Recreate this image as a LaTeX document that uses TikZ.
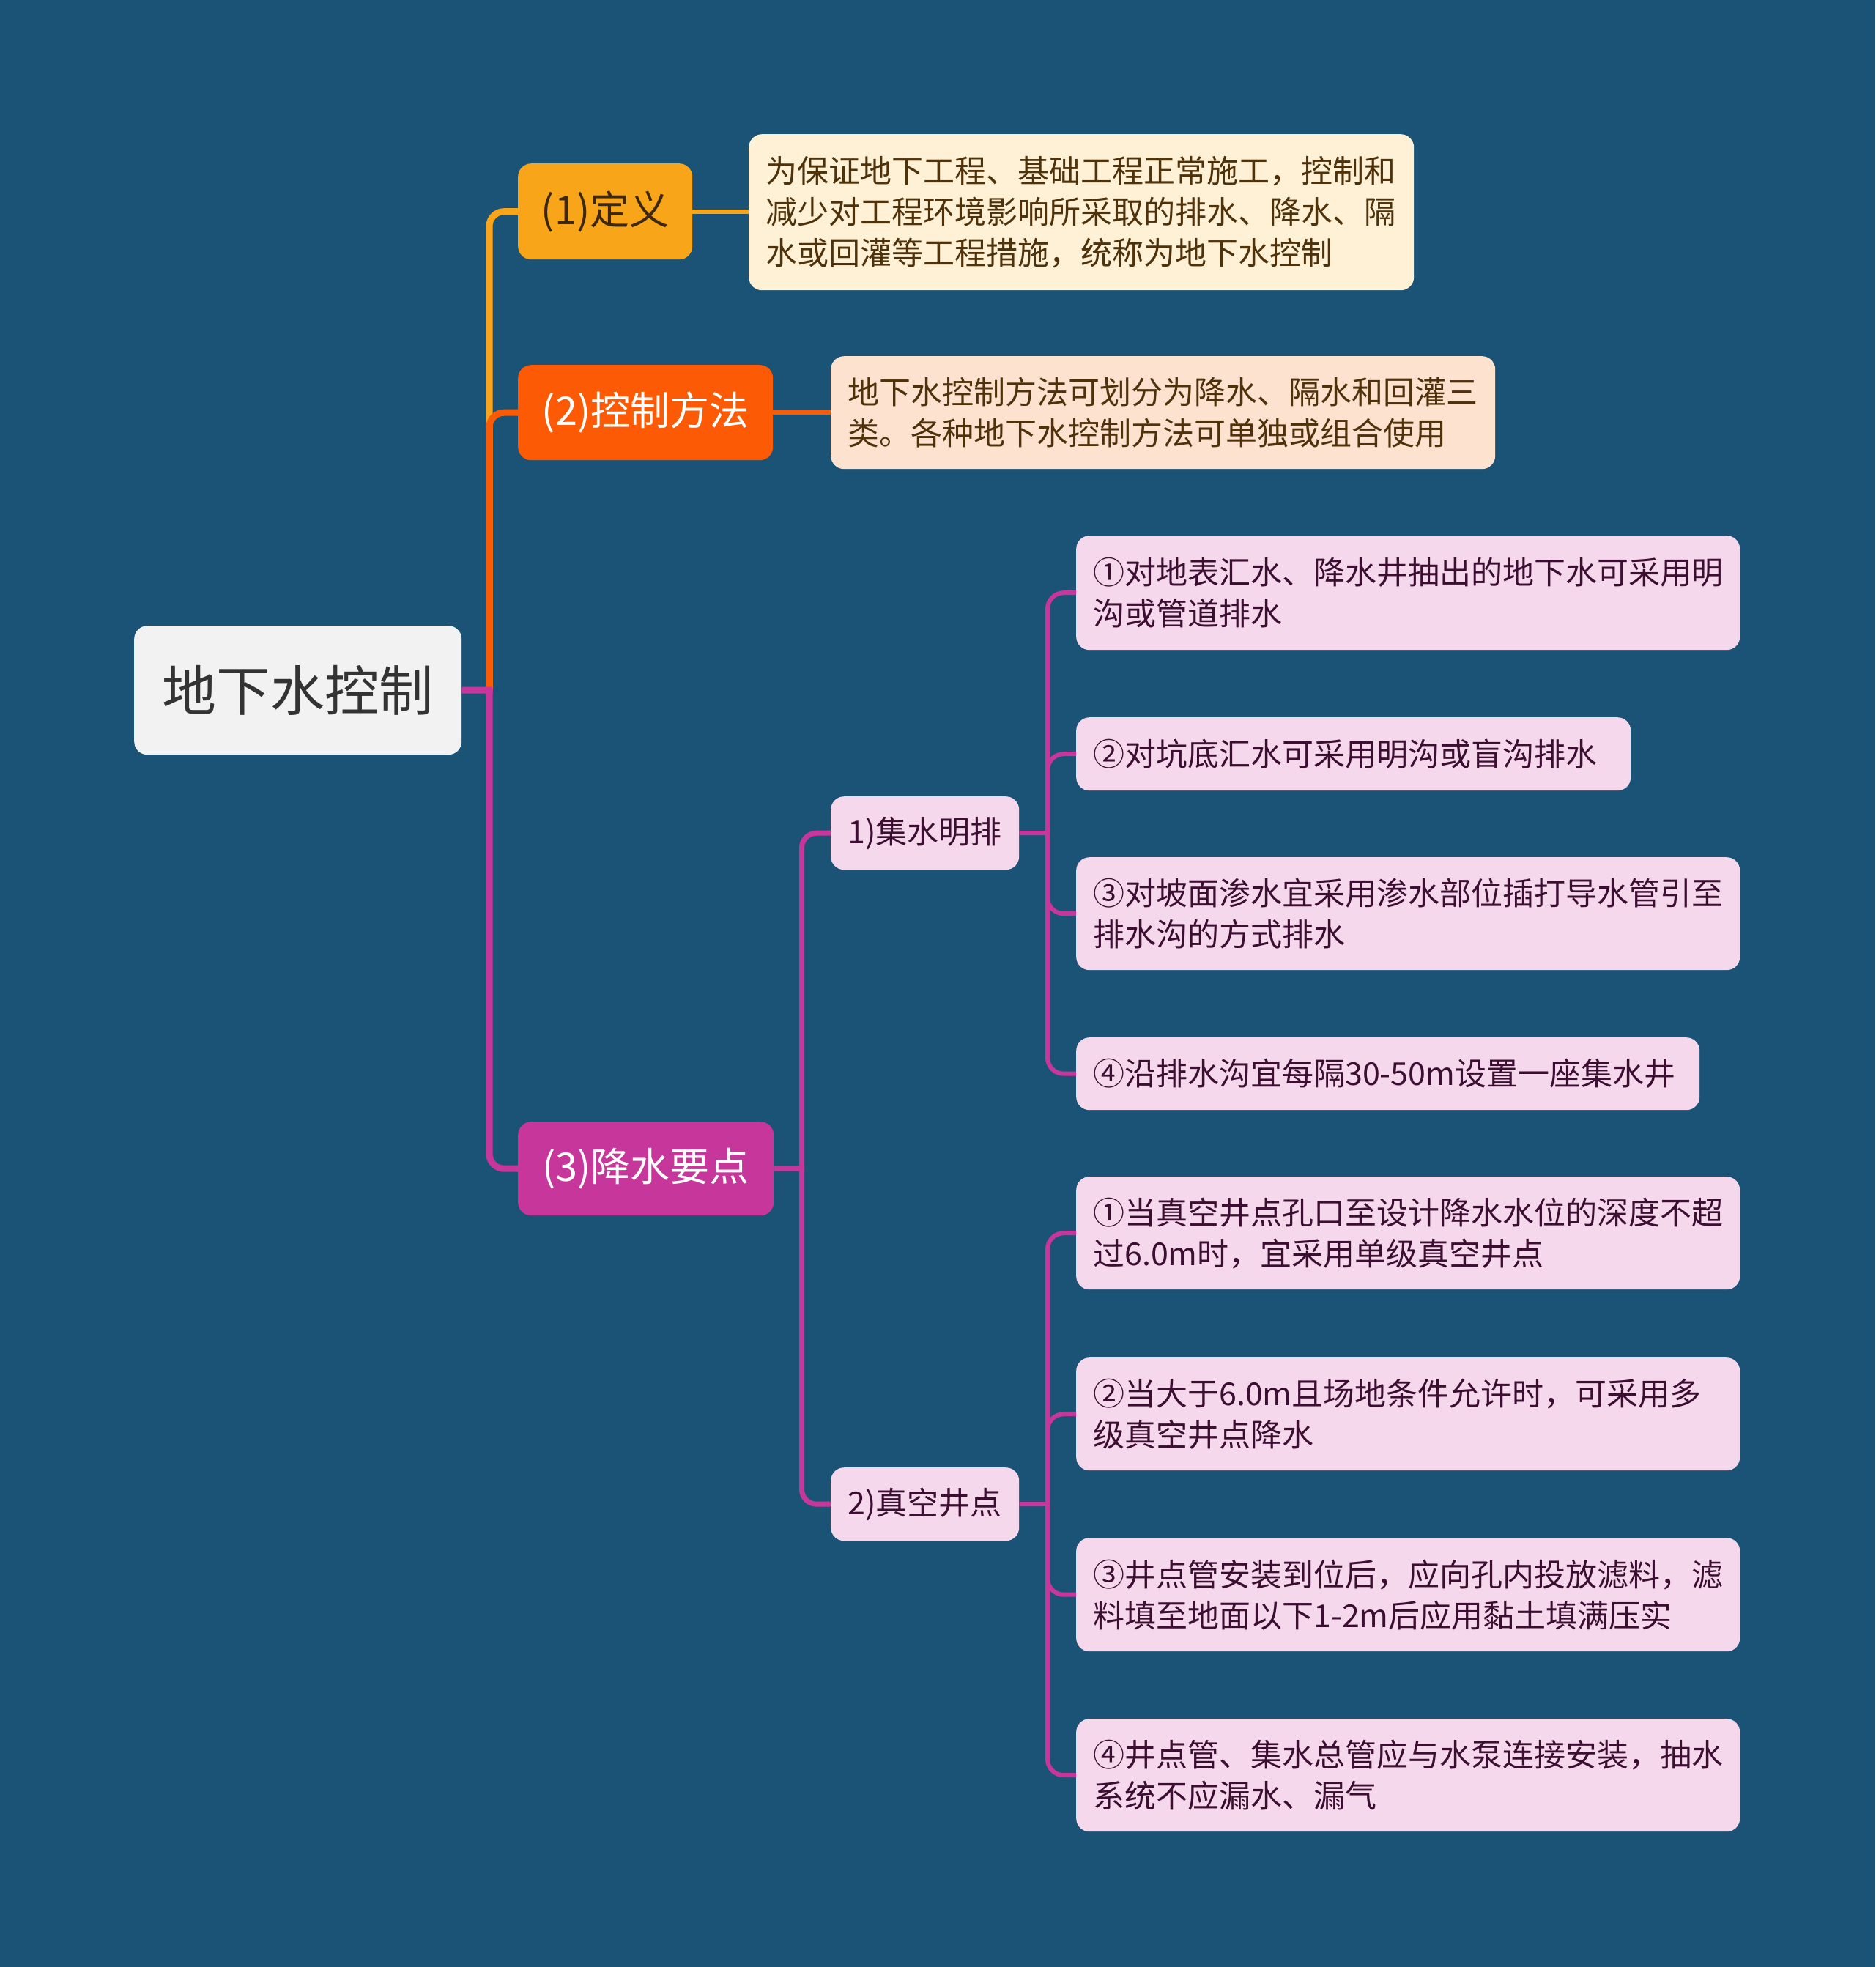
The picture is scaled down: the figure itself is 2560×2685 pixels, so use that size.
\documentclass[tikz,border=0pt]{standalone}
\usepackage{fontspec}
\setmainfont{Noto Sans CJK SC}
\definecolor{bgc}{RGB}{26,83,118}
\definecolor{orA}{RGB}{249,165,26}
\definecolor{orB}{RGB}{252,90,4}
\definecolor{mag}{RGB}{199,55,155}
\definecolor{pinkf}{RGB}{245,216,235}
\definecolor{creamf}{RGB}{255,241,214}
\definecolor{peachf}{RGB}{254,226,208}
\definecolor{rootf}{RGB}{242,242,242}
\definecolor{roott}{RGB}{51,51,51}
\definecolor{brownt}{RGB}{80,50,10}
\definecolor{darkor}{RGB}{60,40,15}
\definecolor{pinkt}{RGB}{60,15,50}
\newcommand\fsz[2]{\fontsize{#1}{#2}\selectfont}
\begin{document}
\begin{tikzpicture}[x=1pt,y=-1pt,
  base/.style={rounded corners=18pt, inner sep=0pt, anchor=north west},
  rootbox/.style={base, fill=rootf, text=roott, font=\fsz{74}{90}, align=center},
  lvA/.style={base, fill=orA, text=darkor, font=\fsz{54}{66}, align=center},
  lvB/.style={base, fill=orB, text=white, font=\fsz{54}{66}, align=center},
  lvC/.style={base, fill=mag, text=white, font=\fsz{54}{66}, align=center},
  defbox/.style={base, fill=creamf, text=brownt, font=\fsz{43}{56}, align=left},
  methbox/.style={base, fill=peachf, text=brownt, font=\fsz{43}{56}, align=left},
  grp/.style={base, fill=pinkf, text=pinkt, font=\fsz{43}{56}, align=center},
  leaf/.style={base, fill=pinkf, text=pinkt, font=\fsz{43}{56}, align=left},
  cz/.style={line width=9pt, rounded corners=20pt},
  co/.style={line width=7pt, rounded corners=20pt},
  cl/.style={line width=6pt, rounded corners=22pt}]
\fill[bgc] (0,0) rectangle (2560,2685);
\useasboundingbox (0,0) rectangle (2560,2685);

% nodes
\node[rootbox, minimum width=447, minimum height=176] (root) at (183,854) {地下水控制};
\node[lvA, minimum width=238, minimum height=131] (n1) at (707,223) {(1)定义};
\node[lvB, minimum width=348, minimum height=130] (n2) at (707,498) {(2)控制方法};
\node[lvC, minimum width=349, minimum height=128] (n3) at (707,1531) {(3)降水要点};

\node[defbox, minimum width=908, minimum height=213, text width=862] (def) at (1022,183)
  {为保证地下工程、基础工程正常施工，控制和\\减少对工程环境影响所采取的排水、降水、隔\\水或回灌等工程措施，统称为地下水控制};
\node[methbox, minimum width=907, minimum height=154, text width=861] (meth) at (1134,486)
  {地下水控制方法可划分为降水、隔水和回灌三\\类。各种地下水控制方法可单独或组合使用};

\node[grp, minimum width=257, minimum height=100] (g1) at (1134,1087) {1)集水明排};
\node[grp, minimum width=257, minimum height=100] (g2) at (1134,2003) {2)真空井点};

\node[leaf, minimum width=906, minimum height=156, text width=860] (a) at (1469,731)
  {①对地表汇水、降水井抽出的地下水可采用明\\沟或管道排水};
\node[leaf, minimum width=757, minimum height=100, text width=711] (b) at (1469,979)
  {②对坑底汇水可采用明沟或盲沟排水};
\node[leaf, minimum width=906, minimum height=154, text width=860] (c) at (1469,1170)
  {③对坡面渗水宜采用渗水部位插打导水管引至\\排水沟的方式排水};
\node[leaf, minimum width=851, minimum height=99, text width=805] (d) at (1469,1416)
  {④沿排水沟宜每隔30-50m设置一座集水井};
\node[leaf, minimum width=906, minimum height=154, text width=860] (e) at (1469,1606)
  {①当真空井点孔口至设计降水水位的深度不超\\过6.0m时，宜采用单级真空井点};
\node[leaf, minimum width=906, minimum height=154, text width=860] (f) at (1469,1853)
  {②当大于6.0m且场地条件允许时，可采用多\\级真空井点降水};
\node[leaf, minimum width=906, minimum height=155, text width=860] (g) at (1469,2099)
  {③井点管安装到位后，应向孔内投放滤料，滤\\料填至地面以下1-2m后应用黏土填满压实};
\node[leaf, minimum width=906, minimum height=154, text width=860] (h) at (1469,2346)
  {④井点管、集水总管应与水泵连接安装，抽水\\系统不应漏水、漏气};

% junction coordinates
\coordinate (j0) at (668,942);
\coordinate (j3) at (1094.5,1595);
\coordinate (j4) at (1430,1137);
\coordinate (j5) at (1430,2053);

% level 0 connectors
\draw[cz, orA] (j0) |- (n1.west);
\draw[cz, orB] (j0) |- (n2.west);
\draw[cz, mag] (j0) |- (n3.west);
\draw[cz, mag] (root.east) -- ([xshift=4.5pt]j0);

% level 1 stubs
\draw[line width=6pt, orA] (n1.east) -- (n1.east -| def.west);
\draw[line width=6pt, orB] (n2.east) -- (n2.east -| meth.west);

% (3) children
\draw[co, mag] (j3) |- (g1.west);
\draw[co, mag] (j3) |- (g2.west);
\draw[line width=7pt, mag] (n3.east) -- ([xshift=3.5pt]j3);

% leaves of g1
\draw[cl, mag] (j4) |- (a.west);
\draw[cl, mag] (j4) |- (b.west);
\draw[cl, mag] (j4) |- (c.west);
\draw[cl, mag] (j4) |- (d.west);
\draw[line width=6pt, mag] (g1.east) -- ([xshift=3pt]j4);

% leaves of g2
\draw[cl, mag] (j5) |- (e.west);
\draw[cl, mag] (j5) |- (f.west);
\draw[cl, mag] (j5) |- (g.west);
\draw[cl, mag] (j5) |- (h.west);
\draw[line width=6pt, mag] (g2.east) -- ([xshift=3pt]j5);
\end{tikzpicture}
\end{document}
